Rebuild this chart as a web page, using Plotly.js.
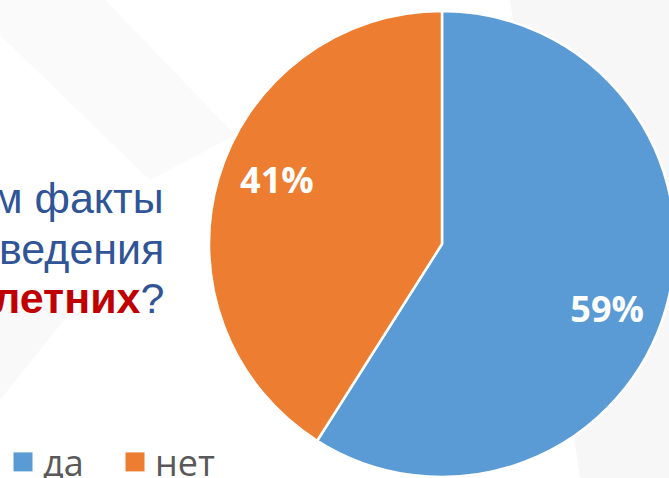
<!DOCTYPE html>
<html>
<head>
<meta charset="utf-8">
<script src="https://cdn.plot.ly/plotly-3.0.1.min.js"></script>
<style>
  html, body { margin: 0; padding: 0; overflow: hidden; background: #ffffff; }
  #chart { width: 680px; height: 478px; }
  #chart .legendpoints path {
    d: path("M9.5,9.5H-9.5V-9.5H9.5Z");
    stroke-width: 0 !important;
  }
</style>
</head>
<body>
<div id="chart"></div>
<script>
// ---- data ----
const categories = ['да', 'нет'];
const values = [59, 41];
const sliceColors = ['#5B9BD5', '#ED7D31'];
const questionLines = [
  'м факты',
  'ведения',
  '<b><span style="color:#C00000">летних</span></b>?'
];

const W = 680, H = 478;
const px = x => x / W;
const py = y => 1 - y / H;
const pieDomain = { x: [px(209), px(675)], y: [py(477), py(11)] };

// main pie: slices + legend
const pieTrace = {
  type: 'pie',
  labels: categories,
  values: values,
  sort: false,
  direction: 'clockwise',
  rotation: 0,
  marker: { colors: sliceColors, line: { color: '#ffffff', width: 2.5 } },
  textinfo: 'none',
  hoverinfo: 'skip',
  domain: pieDomain
};

// transparent ring carrying the percentage labels at ~0.76 r
const labelTrace = {
  type: 'pie',
  labels: categories,
  values: values,
  sort: false,
  direction: 'clockwise',
  rotation: 5,
  hole: 0.52,
  showlegend: false,
  marker: { colors: ['rgba(0,0,0,0)', 'rgba(0,0,0,0)'], line: { width: 0 } },
  textinfo: 'percent',
  textposition: 'inside',
  insidetextorientation: 'horizontal',
  textfont: { family: 'Open Sans, sans-serif', size: 36, color: '#ffffff', weight: 'bold' },
  hoverinfo: 'skip',
  domain: pieDomain
};

const questionY = [198, 249, 298];
const annotations = questionLines.map((t, i) => ({
  xref: 'paper', yref: 'paper',
  x: px(166), y: py(questionY[i]),
  xanchor: 'right', yanchor: 'middle',
  text: t, showarrow: false, align: 'right',
  font: { family: 'Liberation Sans, Arial, sans-serif', size: 43, color: '#2F5597' }
}));

const shapes = [
  { type: 'path', xref: 'paper', yref: 'paper', layer: 'below',
    path: `M ${px(510)} ${py(0)} L ${px(680)} ${py(0)} L ${px(680)} ${py(478)} L ${px(580)} ${py(478)} Z`,
    fillcolor: '#f7f7f7', line: { width: 0 } },
  { type: 'path', xref: 'paper', yref: 'paper', layer: 'below',
    path: `M ${px(0)} ${py(35)} L ${px(0)} ${py(0)} L ${px(105)} ${py(0)} L ${px(235)} ${py(135)} L ${px(150)} ${py(180)} Z`,
    fillcolor: '#fafafa', line: { width: 0 } },
  { type: 'path', xref: 'paper', yref: 'paper', layer: 'below',
    path: `M ${px(0)} ${py(300)} L ${px(80)} ${py(300)} L ${px(0)} ${py(400)} Z`,
    fillcolor: '#f9f9f9', line: { width: 0 } }
];

const layout = {
  width: W, height: H,
  margin: { l: 0, r: 0, t: 0, b: 0, pad: 0, autoexpand: false },
  paper_bgcolor: '#ffffff',
  showlegend: true,
  legend: {
    orientation: 'h', x: px(3), y: py(462), xanchor: 'left', yanchor: 'middle',
    entrywidth: 67, entrywidthmode: 'pixels',
    font: { family: 'Open Sans, sans-serif', size: 36, color: '#595959' },
    bgcolor: 'rgba(0,0,0,0)', traceorder: 'normal'
  },
  annotations: annotations,
  shapes: shapes
};

function enlargeLegendSquares() {
  document.querySelectorAll('.legendpoints path').forEach(p => {
    p.setAttribute('d', 'M9.5,9.5H-9.5V-9.5H9.5Z');
    p.style.strokeWidth = '0px';
  });
}

const gd = document.getElementById('chart');
Plotly.newPlot(gd, [pieTrace, labelTrace], layout, { staticPlot: true, displayModeBar: false }).then(() => {
  enlargeLegendSquares();
  gd.on('plotly_afterplot', enlargeLegendSquares);
});
</script>
</body>
</html>
